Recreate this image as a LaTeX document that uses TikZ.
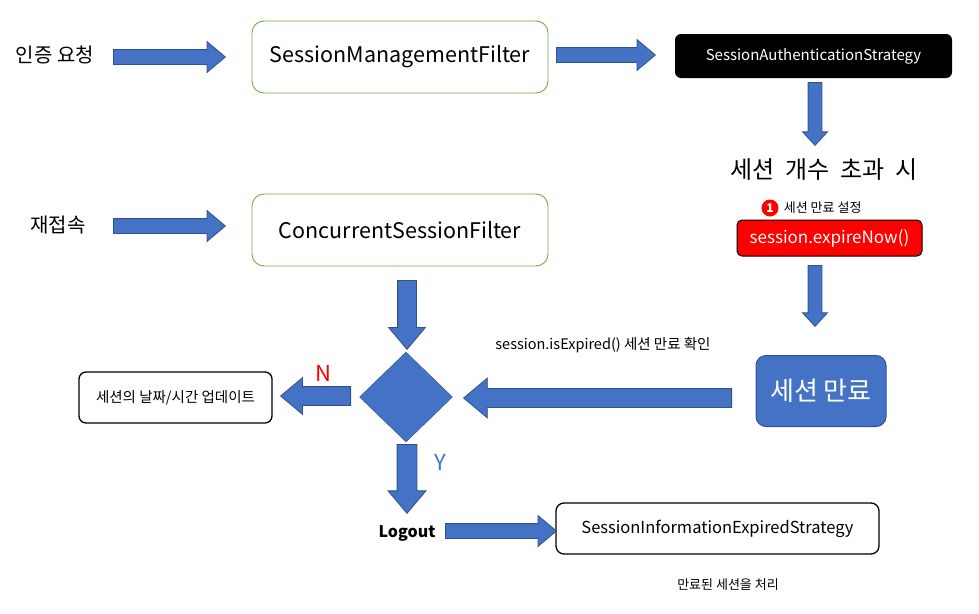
\documentclass[tikz,border=0pt]{standalone}
\usepackage{fontspec}
\setmainfont{Noto Sans CJK KR}
\usetikzlibrary{positioning,calc,shapes.geometric,shapes.arrows}

\definecolor{arrowblue}{HTML}{4472C4}
\definecolor{arrowline}{HTML}{2F528F}
\definecolor{filtergreen}{HTML}{70AD47}

\tikzset{
  filterbox/.style={draw=filtergreen,fill=white,rounded corners=12pt,line width=0.9pt,
                    minimum width=296pt,minimum height=72pt,font=\fontsize{21.5}{24}\selectfont},
  plainbox/.style={draw=black,fill=white,rounded corners=7pt,line width=1.3pt,inner sep=0pt},
  fatarrow/.style={single arrow,draw=arrowline,fill=arrowblue,line width=0.8pt,
                   inner sep=0pt,inner ysep=7pt,single arrow head extend=8pt,
                   single arrow tip angle=80,single arrow head indent=0pt,anchor=tail},
  label/.style={inner sep=0pt},
}

% block arrow from one named point to another
\newcommand\fatarrow[3][]{%
  \path let \p1=($(#3)-(#2)$), \n1={veclen(\x1,\y1)}, \n2={atan2(\y1,\x1)} in
    node[fatarrow,minimum height=\n1,rotate=\n2,#1] at (#2) {};}

\begin{document}
\begin{tikzpicture}[x=1pt,y=-1pt]

  \useasboundingbox[fill=white] (0,0) rectangle (979,613);

  % Top row: login request
  \node[label,font=\fontsize{20}{22}\selectfont] (req) at (55,55) {인증 요청};
  \node[filterbox] (smf) at (400,57) {SessionManagementFilter};
  \node[fill=black,text=white,rounded corners=6pt,minimum width=277pt,minimum height=44pt,
        font=\fontsize{15}{17}\selectfont] (sas) at (813.5,56) {SessionAuthenticationStrategy};

  % Session limit exceeded
  \node[label,font=\fontsize{24}{26}\selectfont] (exceed) at (824,170) {세션\ \ 개수\ \ 초과\ \ 시};
  \node[circle,fill=red,text=white,inner sep=0pt,minimum size=17pt,
        font=\bfseries\fontsize{12}{13}\selectfont] (one) at (770,208) {1};
  \node[label,right=5pt of one,font=\fontsize{13}{15}\selectfont] (setexp) {세션 만료 설정};
  \node[draw=black,fill=red,text=white,line width=1pt,rounded corners=5pt,
        minimum width=185pt,minimum height=36pt,font=\fontsize{17}{19}\selectfont]
        (expnow) at (829.5,238) {session.expireNow()};

  % Second row: reconnect
  \node[label,font=\fontsize{20}{22}\selectfont] (reconn) at (58,225) {재접속};
  \node[filterbox] (csf) at (400,230) {ConcurrentSessionFilter};

  % Decision
  \node[diamond,draw=arrowline,fill=arrowblue,inner sep=0pt,
        minimum width=93pt,minimum height=90pt] (check) at (406,397) {};
  \node[draw=arrowline,fill=arrowblue,text=white,rounded corners=10pt,line width=1pt,
        minimum width=130pt,minimum height=71pt,font=\fontsize{26}{28}\selectfont]
        (expired) at (821,391) {세션 만료};
  \node[label,font=\fontsize{14.5}{17}\selectfont] (isexp) at (603,345) {session.isExpired() 세션 만료 확인};
  \node[plainbox,minimum width=193pt,minimum height=51pt,font=\fontsize{14.5}{17}\selectfont]
        (update) at (175.5,397.5) {세션의 날짜/시간 업데이트};
  \node[label,text=red,font=\fontsize{22}{24}\selectfont] (no) at (323,373) {N};
  \node[label,text=arrowblue,font=\fontsize{22}{24}\selectfont] (yes) at (440,462) {Y};

  % Logout
  \node[label,font=\bfseries\fontsize{16}{18}\selectfont] (logout) at (407,533) {Logout};
  \node[plainbox,rounded corners=8pt,minimum width=323pt,minimum height=51pt,
        font=\fontsize{16.5}{19}\selectfont] (sies) at (717.5,528.5) {SessionInformationExpiredStrategy};
  \node[label,font=\fontsize{13}{15}\selectfont] (handle) at (728,585) {만료된 세션을 처리};

  % Arrow end points
  \coordinate (a1s) at (113,57);  \coordinate (a1e) at (225,57);
  \coordinate (a2s) at (556,55);  \coordinate (a2e) at (655,55);
  \coordinate (a3s) at (113,226); \coordinate (a3e) at (225,226);
  \coordinate (a4s) at (815,82);  \coordinate (a4e) at (815,145);
  \coordinate (a5s) at (815,265); \coordinate (a5e) at (815,326);
  \coordinate (a6s) at (407,280); \coordinate (a6e) at (407,349);
  \coordinate (a7s) at (351,396); \coordinate (a7e) at (281,396);
  \coordinate (a8s) at (732,398); \coordinate (a8e) at (464,398);
  \coordinate (a9s) at (407,444); \coordinate (a9e) at (407,513);
  \coordinate (a10s) at (445,531); \coordinate (a10e) at (556,531);

  % Block arrows
  \fatarrow{a1s}{a1e}
  \fatarrow{a2s}{a2e}
  \fatarrow{a3s}{a3e}
  \fatarrow[inner ysep=6.5pt,single arrow head extend=5.5pt,single arrow tip angle=85]{a4s}{a4e}
  \fatarrow[inner ysep=6.5pt,single arrow head extend=5.5pt,single arrow tip angle=85]{a5s}{a5e}
  \fatarrow[inner ysep=9pt,single arrow head extend=9pt]{a6s}{a6e}
  \fatarrow[inner ysep=9pt,single arrow head extend=9pt]{a7s}{a7e}
  \fatarrow[inner ysep=9pt,single arrow head extend=10.5pt]{a8s}{a8e}
  \fatarrow[inner ysep=9.5pt,single arrow head extend=9pt]{a9s}{a9e}
  \fatarrow{a10s}{a10e}

\end{tikzpicture}
\end{document}
